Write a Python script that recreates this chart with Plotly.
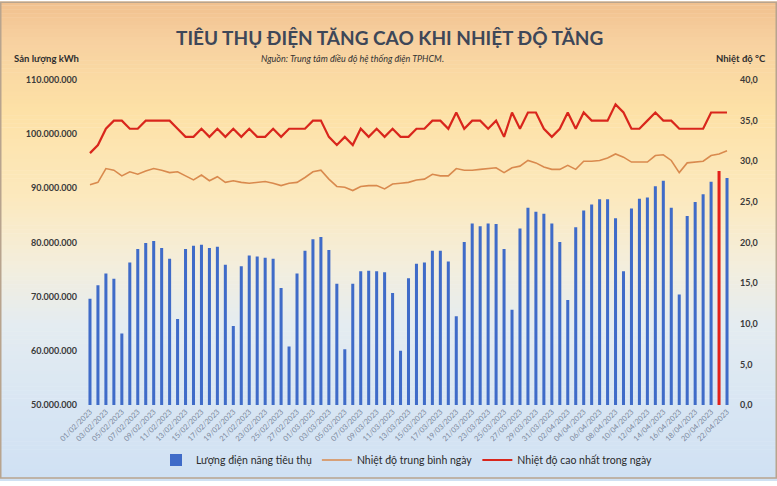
import plotly.graph_objects as go
import pandas as pd

# ---------------- data ----------------
dates = pd.date_range("2023-02-01", periods=81, freq="D").strftime("%d/%m/%Y").tolist()

consumption_mkwh = [
    69.6, 72.1, 74.3, 73.3, 63.2, 76.3, 78.8, 79.9, 80.3, 79.0,
    77.0, 65.9, 78.8, 79.4, 79.6, 79.0, 79.2, 75.9, 64.6, 75.6,
    77.6, 77.4, 77.2, 77.0, 71.6, 60.8, 74.3, 78.5, 80.6, 81.0,
    78.6, 72.4, 60.3, 72.4, 74.7, 74.8, 74.7, 74.5, 70.7, 60.0,
    73.4, 76.1, 76.3, 78.5, 78.5, 76.5, 66.4, 80.1, 83.5, 83.0,
    83.5, 83.4, 78.8, 67.6, 82.6, 86.4, 85.7, 85.3, 83.5, 80.1,
    69.4, 82.8, 85.9, 87.0, 88.0, 88.0, 84.5, 74.7, 86.3, 88.1,
    88.3, 90.4, 91.4, 86.4, 70.4, 84.9, 87.5, 88.9, 91.2, 93.2,
    91.9,
]

avg_temp = [
    27.1, 27.4, 29.1, 28.9, 28.2, 28.7, 28.4, 28.8, 29.1, 28.9,
    28.6, 28.7, 28.2, 27.7, 28.3, 27.6, 28.1, 27.4, 27.6, 27.4,
    27.3, 27.4, 27.5, 27.3, 27.0, 27.3, 27.4, 28.0, 28.7, 28.9,
    27.8, 26.9, 26.8, 26.4, 26.9, 27.0, 27.0, 26.6, 27.2, 27.3,
    27.4, 27.7, 27.8, 28.4, 28.2, 28.2, 29.1, 28.9, 28.9, 29.0,
    29.1, 29.2, 28.6, 29.2, 29.4, 30.1, 29.8, 29.3, 29.0, 29.0,
    29.5, 29.0, 30.0, 30.0, 30.1, 30.4, 30.9, 30.5, 29.9, 29.9,
    29.9, 30.7, 30.8, 30.1, 28.6, 29.8, 29.9, 30.0, 30.7, 30.9,
    31.3,
]

max_temp = [
    31, 32, 34, 35, 35, 34, 34, 35, 35, 35,
    35, 34, 33, 33, 34, 33, 34, 33, 34, 33,
    34, 33, 33, 34, 33, 34, 34, 34, 35, 35,
    33, 32, 33, 32, 34, 33, 34, 33, 34, 33,
    33, 34, 34, 35, 35, 34, 36, 34, 35, 35,
    34, 35, 33, 36, 34, 36, 36, 34, 33, 34,
    36, 34, 36, 35, 35, 35, 37, 36, 34, 34,
    35, 36, 35, 35, 34, 34, 34, 34, 36, 36,
    36,
]

highlight_index = 79
tick_labels = dates[::2]

# ---------------- styling ----------------
W, H = 777, 486
ML, MR, MT, MB = 86, 46, 80, 75
PW, PH = W - ML - MR, H - MT - MB
FONT = "Lato"

def px_to_paper_x(px):
    return (px - ML) / PW

def px_to_paper_y(py):
    return (H - MB - py) / PH

BLUE = "#3f6bc8"
RED_BAR = "#e3201b"
bar_colors = [RED_BAR if i == highlight_index else BLUE for i in range(len(dates))]

fig = go.Figure()
fig.add_trace(go.Bar(
    x=dates, y=[v * 1e6 for v in consumption_mkwh],
    name="Lượng điện năng tiêu thụ", marker=dict(color=bar_colors, line=dict(width=0)),
    yaxis="y",
))
fig.add_trace(go.Scatter(
    x=dates, y=avg_temp, mode="lines", name="Nhiệt độ trung bình ngày",
    line=dict(color="#d98a4e", width=1.6), yaxis="y2",
))
fig.add_trace(go.Scatter(
    x=dates, y=max_temp, mode="lines", name="Nhiệt độ cao nhất trong ngày",
    line=dict(color="#d9261c", width=2.2), yaxis="y2",
))

# background gradient (vertical)
stops = [
    (0, (241, 192, 142)),
    (40, (247, 209, 160)),
    (110, (253, 225, 166)),
    (200, (252, 233, 190)),
    (270, (243, 238, 221)),
    (330, (228, 236, 241)),
    (420, (215, 229, 243)),
    (486, (208, 225, 243)),
]

def color_at(py):
    for (p0, c0), (p1, c1) in zip(stops[:-1], stops[1:]):
        if p0 <= py <= p1:
            t = (py - p0) / (p1 - p0)
            return "rgb(%d,%d,%d)" % tuple(round(a + (b - a) * t) for a, b in zip(c0, c1))
    return "rgb(%d,%d,%d)" % stops[-1][1]

shapes = []
step = 4
for py in range(0, H, step):
    shapes.append(dict(
        type="rect", xref="paper", yref="paper", layer="below",
        x0=px_to_paper_x(0), x1=px_to_paper_x(W),
        y0=px_to_paper_y(py + step + 0.5), y1=px_to_paper_y(py),
        fillcolor=color_at(py + step / 2), line=dict(width=0),
    ))
shapes.append(dict(
    type="rect", xref="paper", yref="paper", layer="above",
    x0=px_to_paper_x(0.75), x1=px_to_paper_x(W - 0.75),
    y0=px_to_paper_y(H - 0.75), y1=px_to_paper_y(0.75),
    line=dict(color="#b8a48e", width=1.5), fillcolor="rgba(0,0,0,0)",
))

annotations = [
    dict(text="TIÊU THỤ ĐIỆN TĂNG CAO KHI NHIỆT ĐỘ TĂNG", x=px_to_paper_x(389), y=px_to_paper_y(37),
         xref="paper", yref="paper", showarrow=False, xanchor="center", yanchor="middle",
         font=dict(family=FONT, size=19, color="#3e4758", weight="bold")),
    dict(text="<i>Nguồn: Trung tâm điều độ hệ thống điện TPHCM.</i>", x=px_to_paper_x(352), y=px_to_paper_y(58),
         xref="paper", yref="paper", showarrow=False, xanchor="center", yanchor="middle",
         font=dict(family=FONT, size=9, color="#333333")),
    dict(text="<b>Sản lượng kWh</b>", x=px_to_paper_x(12), y=px_to_paper_y(58),
         xref="paper", yref="paper", showarrow=False, xanchor="left", yanchor="middle",
         font=dict(family=FONT, size=9.5, color="#2e2e2e")),
    dict(text="<b>Nhiệt độ °C</b>", x=px_to_paper_x(768), y=px_to_paper_y(58),
         xref="paper", yref="paper", showarrow=False, xanchor="right", yanchor="middle",
         font=dict(family=FONT, size=9.5, color="#2e2e2e")),
]

fig.update_layout(
    width=W, height=H,
    margin=dict(l=ML, r=MR, t=MT, b=MB),
    paper_bgcolor="rgba(0,0,0,0)", plot_bgcolor="rgba(0,0,0,0)",
    separators=",.",
    bargap=0.62,
    showlegend=True,
    font=dict(family=FONT, color="#333333"),
    xaxis=dict(
        type="category", tickmode="array", tickvals=tick_labels, ticktext=tick_labels,
        tickangle=-45, tickfont=dict(family=FONT, size=7.5, color="#7a879b"),
        showgrid=False, showline=False, zeroline=False, ticks="",
    ),
    yaxis=dict(
        range=[50e6, 110e6], dtick=10e6, tickformat=",.0f",
        tickfont=dict(family=FONT, size=9, color="#3a3a3a", weight="bold"),
        showgrid=False, zeroline=False, showline=False, ticks="", ticklabelstandoff=8,
    ),
    yaxis2=dict(
        range=[0, 40], dtick=5, tickformat=".1f", overlaying="y", side="right",
        tickfont=dict(family=FONT, size=9, color="#3a3a3a", weight="bold"),
        showgrid=False, zeroline=False, showline=False, ticks="", ticklabelstandoff=8,
    ),
    legend=dict(
        orientation="h", x=px_to_paper_x(407), xanchor="center",
        y=px_to_paper_y(467), yanchor="middle",
        font=dict(family=FONT, size=10.5, color="#2b2b2b"),
        bgcolor="rgba(0,0,0,0)", itemwidth=30,
    ),
    shapes=shapes,
    annotations=annotations,
)

fig.write_html(
    "out.html",
    config={"displayModeBar": False},
    post_script="document.body.style.margin='0px'; document.body.style.overflow='hidden';",
)
